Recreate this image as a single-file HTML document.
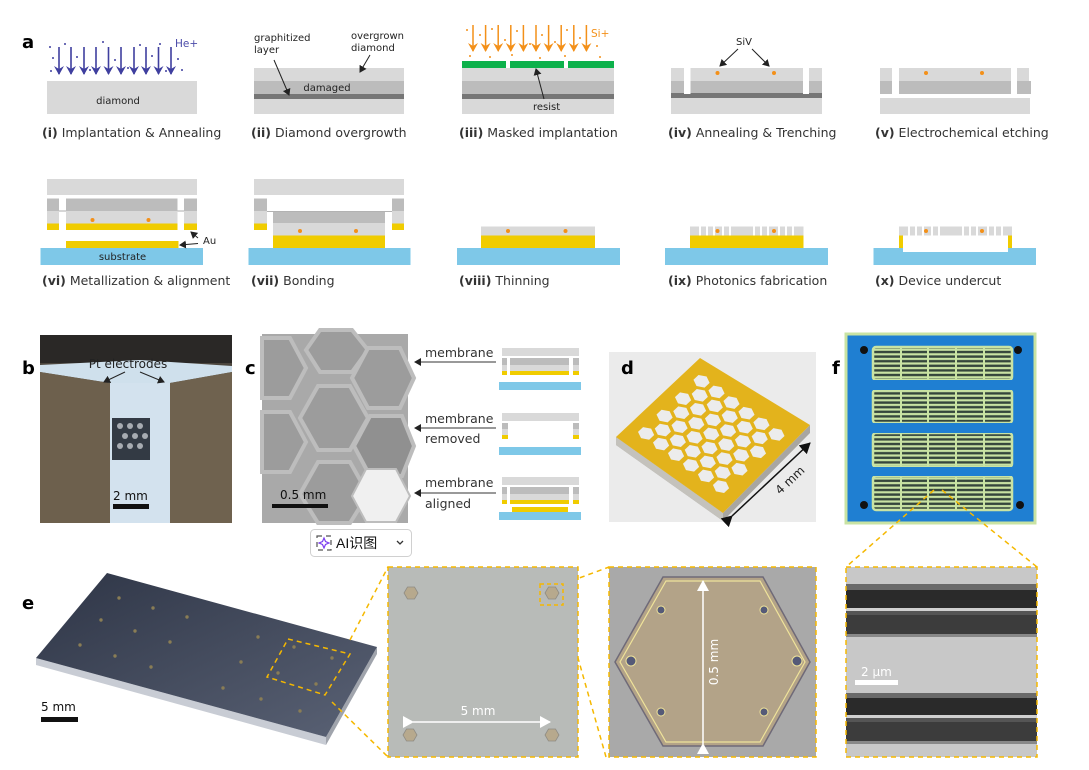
<!DOCTYPE html>
<html><head><meta charset="utf-8"><style>
html,body{margin:0;padding:0;background:#fff;}
svg{display:block;font-family:"Liberation Sans","DejaVu Sans",sans-serif;}
.cap{font-family:"DejaVu Sans","Liberation Sans",sans-serif;font-size:12.5px;fill:#333;}
.cap tspan.b{font-weight:bold;}
.sm{font-family:"DejaVu Sans","Liberation Sans",sans-serif;font-size:10px;fill:#222;}
.lab{font-family:"DejaVu Sans","Liberation Sans",sans-serif;font-size:18px;font-weight:bold;fill:#000;}
.mt{font-family:"DejaVu Sans","Liberation Sans",sans-serif;font-size:12.5px;fill:#333;}
</style></head><body>
<svg width="1089" height="770" viewBox="0 0 1089 770" xmlns="http://www.w3.org/2000/svg">
<defs>
<marker id="ab" markerWidth="8" markerHeight="8" refX="6" refY="4" orient="auto" markerUnits="userSpaceOnUse"><path d="M0,0 L7,4 L0,8 z" fill="#222"/></marker>
<marker id="ap" markerWidth="10" markerHeight="10" refX="8" refY="5" orient="auto" markerUnits="userSpaceOnUse"><path d="M0,0 L9,5 L0,10 L3,5 z" fill="#3f3f9f"/></marker>
<marker id="ao" markerWidth="10" markerHeight="10" refX="8" refY="5" orient="auto" markerUnits="userSpaceOnUse"><path d="M0,0 L9,5 L0,10 L3,5 z" fill="#f39019"/></marker>
<marker id="aw" markerWidth="12" markerHeight="12" refX="10" refY="6" orient="auto" markerUnits="userSpaceOnUse"><path d="M0,0 L11,6 L0,12 z" fill="#fff"/></marker>
<marker id="ak" markerWidth="12" markerHeight="12" refX="10" refY="6" orient="auto" markerUnits="userSpaceOnUse"><path d="M0,0 L11,6 L0,12 z" fill="#111"/></marker>
<polygon id="hx" points="6,0 3,5.2 -3,5.2 -6,0 -3,-5.2 3,-5.2"/>
<pattern id="stripe" width="10" height="4.6" patternUnits="userSpaceOnUse"><rect width="10" height="4.6" fill="#c9e3a3"/><rect y="1.2" width="10" height="2.4" fill="#35463c"/></pattern>
<linearGradient id="plate" x1="0" y1="0" x2="1" y2="1"><stop offset="0" stop-color="#2e3546"/><stop offset="1" stop-color="#5a6275"/></linearGradient>
<linearGradient id="bph" x1="0" y1="0" x2="0" y2="1"><stop offset="0" stop-color="#3d3a36"/><stop offset="0.5" stop-color="#6b5f4c"/><stop offset="1" stop-color="#7b6e58"/></linearGradient>
</defs>

<!-- ===== panel a ===== -->
<text x="22" y="48" class="lab">a</text>

<!-- (i) -->
<g stroke="#3f3f9f" stroke-width="1.6" marker-end="url(#ap)">
<line x1="59" y1="47" x2="59" y2="74"/><line x1="71" y1="47" x2="71" y2="74"/><line x1="84" y1="47" x2="84" y2="74"/><line x1="96" y1="47" x2="96" y2="74"/><line x1="108.5" y1="47" x2="108.5" y2="74"/><line x1="121" y1="47" x2="121" y2="74"/><line x1="134" y1="47" x2="134" y2="74"/><line x1="146" y1="47" x2="146" y2="74"/><line x1="158.5" y1="47" x2="158.5" y2="74"/><line x1="171" y1="47" x2="171" y2="74"/>
</g>
<g fill="#3f3f9f">
<circle cx="50" cy="47" r="1"/><circle cx="65" cy="44" r="1"/><circle cx="103" cy="42" r="1"/><circle cx="140" cy="45" r="1"/><circle cx="160" cy="44" r="1"/><circle cx="53" cy="58" r="1"/><circle cx="77" cy="57" r="1"/><circle cx="115" cy="60" r="1"/><circle cx="152" cy="56" r="1"/><circle cx="178" cy="59" r="1"/><circle cx="51" cy="71" r="1"/><circle cx="90" cy="70" r="1"/><circle cx="128" cy="68" r="1"/><circle cx="166" cy="71" r="1"/><circle cx="182" cy="70" r="1"/>
</g>
<text x="175" y="47" font-size="10.5" fill="#4a4aa8" font-family="DejaVu Sans,sans-serif">He+</text>
<rect x="47" y="81" width="150" height="33" fill="#d9d9d9"/>
<text x="118" y="104" text-anchor="middle" class="sm" font-size="10.5">diamond</text>
<text x="42" y="137" class="cap"><tspan class="b">(i)</tspan> Implantation &amp; Annealing</text>

<!-- (ii) -->
<rect x="254" y="68" width="150" height="13" fill="#d9d9d9"/>
<rect x="254" y="81" width="150" height="13" fill="#bcbcbc"/>
<rect x="254" y="94" width="150" height="5" fill="#767676"/>
<rect x="254" y="99" width="150" height="15" fill="#d9d9d9"/>
<text x="327" y="91" text-anchor="middle" class="sm" font-size="10.5" fill="#444">damaged</text>
<text x="254" y="41" class="sm">graphitized</text>
<text x="254" y="53" class="sm">layer</text>
<text x="351" y="39" class="sm">overgrown</text>
<text x="351" y="51" class="sm">diamond</text>
<line x1="274" y1="60" x2="289" y2="95" stroke="#222" stroke-width="1" marker-end="url(#ab)"/>
<line x1="370" y1="55" x2="360" y2="72" stroke="#222" stroke-width="1" marker-end="url(#ab)"/>
<text x="251" y="137" class="cap"><tspan class="b">(ii)</tspan> Diamond overgrowth</text>

<!-- (iii) -->
<g stroke="#f39019" stroke-width="1.5" marker-end="url(#ao)">
<line x1="473" y1="25" x2="473" y2="51"/><line x1="485.6" y1="25" x2="485.6" y2="51"/><line x1="498.2" y1="25" x2="498.2" y2="51"/><line x1="510.8" y1="25" x2="510.8" y2="51"/><line x1="523.4" y1="25" x2="523.4" y2="51"/><line x1="536" y1="25" x2="536" y2="51"/><line x1="548.6" y1="25" x2="548.6" y2="51"/><line x1="561.2" y1="25" x2="561.2" y2="51"/><line x1="573.8" y1="25" x2="573.8" y2="51"/><line x1="586.4" y1="25" x2="586.4" y2="51"/>
</g>
<g fill="#f39019">
<circle cx="467" cy="30" r="1"/><circle cx="480" cy="35" r="1"/><circle cx="492" cy="29" r="1"/><circle cx="505" cy="40" r="1"/><circle cx="517" cy="31" r="1"/><circle cx="530" cy="44" r="1"/><circle cx="542" cy="35" r="1"/><circle cx="555" cy="42" r="1"/><circle cx="567" cy="30" r="1"/><circle cx="580" cy="38" r="1"/><circle cx="597" cy="46" r="1"/><circle cx="470" cy="56" r="1"/><circle cx="490" cy="57" r="1"/><circle cx="512" cy="55" r="1"/><circle cx="540" cy="58" r="1"/><circle cx="565" cy="56" r="1"/><circle cx="600" cy="57" r="1"/>
</g>
<text x="591" y="37" font-size="10.5" fill="#f39019" font-family="DejaVu Sans,sans-serif">Si+</text>
<rect x="462" y="61" width="44" height="7" fill="#0db14b"/>
<rect x="510" y="61" width="54" height="7" fill="#0db14b"/>
<rect x="568" y="61" width="46" height="7" fill="#0db14b"/>
<rect x="462" y="68" width="152" height="13" fill="#d9d9d9"/>
<rect x="462" y="81" width="152" height="13" fill="#bcbcbc"/>
<rect x="462" y="94" width="152" height="5" fill="#767676"/>
<rect x="462" y="99" width="152" height="15" fill="#d9d9d9"/>
<text x="533" y="110" class="sm" font-size="10.5">resist</text>
<line x1="544" y1="99" x2="536" y2="69" stroke="#222" stroke-width="1" marker-end="url(#ab)"/>
<text x="459" y="137" class="cap"><tspan class="b">(iii)</tspan> Masked implantation</text>

<!-- (iv) -->
<rect x="671" y="68" width="151" height="13" fill="#d9d9d9"/>
<rect x="671" y="81" width="151" height="12" fill="#bcbcbc"/>
<rect x="671" y="93" width="151" height="5" fill="#767676"/>
<rect x="671" y="98" width="151" height="16" fill="#d9d9d9"/>
<rect x="684" y="68" width="6.5" height="26" fill="#fff"/>
<rect x="803" y="68" width="6" height="26" fill="#fff"/>
<circle cx="717.5" cy="73" r="2" fill="#f39019"/><circle cx="774" cy="73" r="2" fill="#f39019"/>
<text x="744" y="45" text-anchor="middle" class="sm" font-size="10.5">SiV</text>
<line x1="738" y1="49" x2="720" y2="66" stroke="#222" stroke-width="1" marker-end="url(#ab)"/>
<line x1="752" y1="49" x2="769" y2="66" stroke="#222" stroke-width="1" marker-end="url(#ab)"/>
<text x="668" y="137" class="cap"><tspan class="b">(iv)</tspan> Annealing &amp; Trenching</text>

<!-- (v) -->
<rect x="880" y="68" width="12" height="13" fill="#d9d9d9"/>
<rect x="899" y="68" width="112" height="13" fill="#d9d9d9"/>
<rect x="1017" y="68" width="12" height="13" fill="#d9d9d9"/>
<rect x="880" y="81" width="12" height="13" fill="#bcbcbc"/>
<rect x="899" y="81" width="112" height="13" fill="#bcbcbc"/>
<rect x="1017" y="81" width="14" height="13" fill="#bcbcbc"/>
<rect x="880" y="98" width="150" height="16" fill="#d9d9d9"/>
<circle cx="926" cy="73" r="2" fill="#f39019"/><circle cx="982" cy="73" r="2" fill="#f39019"/>
<text x="875" y="137" class="cap"><tspan class="b">(v)</tspan> Electrochemical etching</text>

<!-- (vi) -->
<rect x="47" y="179" width="150" height="16" fill="#d9d9d9"/>
<rect x="47" y="198.5" width="12" height="12.5" fill="#bcbcbc"/>
<rect x="47" y="211" width="12" height="12.5" fill="#d9d9d9"/>
<rect x="47" y="223.5" width="12" height="6.5" fill="#f0cc00"/>
<rect x="66" y="198.5" width="111.5" height="12.5" fill="#bcbcbc"/>
<rect x="66" y="211" width="111.5" height="12.5" fill="#d9d9d9"/>
<rect x="66" y="223.5" width="111.5" height="6.5" fill="#f0cc00"/>
<rect x="184" y="198.5" width="13" height="12.5" fill="#bcbcbc"/>
<rect x="184" y="211" width="13" height="12.5" fill="#d9d9d9"/>
<rect x="184" y="223.5" width="13" height="6.5" fill="#f0cc00"/>
<line x1="59" y1="211" x2="66" y2="211" stroke="#999" stroke-width="0.8"/>
<line x1="177.5" y1="211" x2="184" y2="211" stroke="#999" stroke-width="0.8"/>
<circle cx="92.5" cy="220" r="2" fill="#f39019"/><circle cx="148.5" cy="220" r="2" fill="#f39019"/>
<rect x="66" y="241" width="112.5" height="7" fill="#f0cc00"/>
<rect x="40.5" y="248" width="162.5" height="17" fill="#7ec8e8"/>
<text x="122.5" y="260" text-anchor="middle" class="sm" font-size="10.5">substrate</text>
<text x="203" y="244" class="sm" font-size="10.5">Au</text>
<line x1="198" y1="238" x2="191" y2="232" stroke="#222" stroke-width="1" marker-end="url(#ab)"/>
<line x1="198" y1="243.5" x2="180" y2="245" stroke="#222" stroke-width="1" marker-end="url(#ab)"/>
<text x="42" y="285" class="cap"><tspan class="b">(vi)</tspan> Metallization &amp; alignment</text>

<!-- (vii) -->
<rect x="254" y="179" width="150" height="16" fill="#d9d9d9"/>
<rect x="254" y="198.5" width="13" height="12.5" fill="#bcbcbc"/>
<rect x="254" y="211" width="13" height="12.5" fill="#d9d9d9"/>
<rect x="254" y="223.5" width="13" height="6.5" fill="#f0cc00"/>
<rect x="392" y="198.5" width="12" height="12.5" fill="#bcbcbc"/>
<rect x="392" y="211" width="12" height="12.5" fill="#d9d9d9"/>
<rect x="392" y="223.5" width="12" height="6.5" fill="#f0cc00"/>
<line x1="267" y1="211.5" x2="392" y2="211.5" stroke="#999" stroke-width="0.8"/>
<rect x="273" y="212" width="112" height="11" fill="#bcbcbc"/>
<rect x="273" y="223" width="112" height="12.5" fill="#d9d9d9"/>
<rect x="273" y="235.5" width="112" height="12.5" fill="#f0cc00"/>
<circle cx="300" cy="231" r="2" fill="#f39019"/><circle cx="356" cy="231" r="2" fill="#f39019"/>
<rect x="248.5" y="248" width="162" height="17" fill="#7ec8e8"/>
<text x="251" y="285" class="cap"><tspan class="b">(vii)</tspan> Bonding</text>

<!-- (viii) -->
<rect x="481" y="226.5" width="114" height="9" fill="#d9d9d9"/>
<rect x="481" y="235.5" width="114" height="12.5" fill="#f0cc00"/>
<circle cx="508" cy="231" r="2" fill="#f39019"/><circle cx="565.5" cy="231" r="2" fill="#f39019"/>
<rect x="457" y="248" width="163" height="17" fill="#7ec8e8"/>
<text x="459" y="285" class="cap"><tspan class="b">(viii)</tspan> Thinning</text>

<!-- (ix) -->
<rect x="690" y="226.5" width="113.5" height="9" fill="#d9d9d9"/>
<g fill="#fff"><rect x="699" y="226.5" width="2" height="9"/><rect x="706" y="226.5" width="2" height="9"/><rect x="713" y="226.5" width="2" height="9"/><rect x="722" y="226.5" width="2" height="9"/><rect x="729" y="226.5" width="2" height="9"/><rect x="753" y="226.5" width="2" height="9"/><rect x="760" y="226.5" width="2" height="9"/><rect x="767" y="226.5" width="2" height="9"/><rect x="778" y="226.5" width="2" height="9"/><rect x="785" y="226.5" width="2" height="9"/><rect x="792" y="226.5" width="2" height="9"/></g>
<circle cx="717.5" cy="231" r="2" fill="#f39019"/><circle cx="774" cy="231" r="2" fill="#f39019"/>
<rect x="690" y="235.5" width="113.5" height="12.5" fill="#f0cc00"/>
<rect x="665" y="248" width="163" height="17" fill="#7ec8e8"/>
<text x="668" y="285" class="cap"><tspan class="b">(ix)</tspan> Photonics fabrication</text>

<!-- (x) -->
<rect x="899" y="226.5" width="113" height="9" fill="#d9d9d9"/>
<g fill="#fff"><rect x="908" y="226.5" width="2" height="9"/><rect x="915" y="226.5" width="2" height="9"/><rect x="922" y="226.5" width="2" height="9"/><rect x="931" y="226.5" width="2" height="9"/><rect x="938" y="226.5" width="2" height="9"/><rect x="962" y="226.5" width="2" height="9"/><rect x="969" y="226.5" width="2" height="9"/><rect x="976" y="226.5" width="2" height="9"/><rect x="987" y="226.5" width="2" height="9"/><rect x="994" y="226.5" width="2" height="9"/><rect x="1001" y="226.5" width="2" height="9"/></g>
<circle cx="926" cy="231" r="2" fill="#f39019"/><circle cx="982" cy="231" r="2" fill="#f39019"/>
<rect x="873.5" y="248" width="162.5" height="17" fill="#7ec8e8"/>
<rect x="899" y="235.5" width="113" height="12.5" fill="#f0cc00"/>
<rect x="903" y="235.5" width="105" height="16.5" fill="#fff"/>
<text x="875" y="285" class="cap"><tspan class="b">(x)</tspan> Device undercut</text>

<!-- ===== panel b ===== -->
<text x="22" y="374" class="lab">b</text>
<rect x="40" y="335" width="192" height="188" fill="url(#bph)"/>
<rect x="40" y="335" width="192" height="28" fill="#2a2826"/>
<polygon points="40,365 140,360 232,366 232,372 170,383 110,383 40,372" fill="#cfe0ec"/>
<polygon points="110,383 170,383 170,523 110,523" fill="#d3e2ee"/>
<polygon points="40,372 110,383 110,523 40,523" fill="#6d604d"/>
<polygon points="170,383 232,372 232,523 170,523" fill="#6f624f"/>
<rect x="112" y="418" width="38" height="42" fill="#333a44"/>
<g fill="#d8dbe0" opacity="0.7"><circle cx="120" cy="426" r="3"/><circle cx="130" cy="426" r="3"/><circle cx="140" cy="426" r="3"/><circle cx="125" cy="436" r="3"/><circle cx="135" cy="436" r="3"/><circle cx="145" cy="436" r="3"/><circle cx="120" cy="446" r="3"/><circle cx="130" cy="446" r="3"/><circle cx="140" cy="446" r="3"/></g>
<text x="128" y="368" text-anchor="middle" font-size="12" fill="#222" font-family="DejaVu Sans,sans-serif">Pt electrodes</text>
<line x1="125" y1="372" x2="104" y2="382" stroke="#222" stroke-width="1" marker-end="url(#ab)"/>
<line x1="140" y1="372" x2="164" y2="382" stroke="#222" stroke-width="1" marker-end="url(#ab)"/>
<text x="113" y="500" font-size="12" fill="#111" font-family="DejaVu Sans,sans-serif">2 mm</text>
<rect x="113" y="504" width="36" height="5" fill="#111"/>

<!-- ===== panel c ===== -->
<text x="245" y="374" class="lab">c</text>
<rect x="262" y="334" width="146" height="189" fill="#a9a9a9"/>
<g stroke="#bdbdbd" stroke-width="4" fill="#9c9c9c">
<polygon points="262,338 290,338 306,368 290,398 262,398"/>
<polygon points="262,412 290,412 306,442 290,472 262,472"/>
<polygon points="320,330 352,330 368,350 352,372 320,372 306,350" />
<polygon points="318,386 350,386 368,418 350,450 318,450 300,418"/>
<polygon points="318,462 350,462 368,494 350,523 318,523 300,494"/>
<polygon points="368,348 400,348 414,378 400,408 368,408 352,378"/>
<polygon points="370,416 402,416 414,446 402,476 370,476 354,446" fill="#909090"/>
</g>
<polygon points="366,469 396,469 410,496 396,522 366,522 352,496" fill="#f0f0f0" stroke="#bdbdbd" stroke-width="2"/>
<text x="280" y="499" font-size="12" fill="#111" font-family="DejaVu Sans,sans-serif">0.5 mm</text>
<rect x="272" y="504" width="56" height="4" fill="#111"/>
<text x="425" y="357" class="mt">membrane</text>
<text x="425" y="423" class="mt">membrane</text>
<text x="425" y="443" class="mt">removed</text>
<text x="425" y="487" class="mt">membrane</text>
<text x="425" y="508" class="mt">aligned</text>
<line x1="496" y1="362" x2="415" y2="362" stroke="#333" stroke-width="1" marker-end="url(#ab)"/>
<line x1="496" y1="428" x2="415" y2="428" stroke="#333" stroke-width="1" marker-end="url(#ab)"/>
<line x1="496" y1="493" x2="415" y2="493" stroke="#333" stroke-width="1" marker-end="url(#ab)"/>
<!-- mini 1 -->
<rect x="502" y="348" width="77" height="8" fill="#d9d9d9"/>
<rect x="502" y="358" width="5" height="7" fill="#bcbcbc"/><rect x="510" y="358" width="59" height="7" fill="#bcbcbc"/><rect x="573" y="358" width="6" height="7" fill="#bcbcbc"/>
<rect x="502" y="365" width="5" height="6" fill="#d9d9d9"/><rect x="510" y="365" width="59" height="6" fill="#d9d9d9"/><rect x="573" y="365" width="6" height="6" fill="#d9d9d9"/>
<rect x="502" y="371" width="5" height="4" fill="#f0cc00"/><rect x="510" y="371" width="59" height="4" fill="#f0cc00"/><rect x="573" y="371" width="6" height="4" fill="#f0cc00"/>
<rect x="499" y="382" width="82" height="8" fill="#7ec8e8"/>
<!-- mini 2 -->
<rect x="502" y="413" width="77" height="8" fill="#d9d9d9"/>
<rect x="502" y="423" width="6" height="6" fill="#bcbcbc"/><rect x="502" y="429" width="6" height="6" fill="#d9d9d9"/><rect x="502" y="435" width="6" height="4" fill="#f0cc00"/>
<rect x="573" y="423" width="6" height="6" fill="#bcbcbc"/><rect x="573" y="429" width="6" height="6" fill="#d9d9d9"/><rect x="573" y="435" width="6" height="4" fill="#f0cc00"/>
<rect x="499" y="447" width="82" height="8" fill="#7ec8e8"/>
<!-- mini 3 -->
<rect x="502" y="477" width="77" height="8" fill="#d9d9d9"/>
<rect x="502" y="487" width="5" height="7" fill="#bcbcbc"/><rect x="510" y="487" width="59" height="7" fill="#bcbcbc"/><rect x="573" y="487" width="6" height="7" fill="#bcbcbc"/>
<rect x="502" y="494" width="5" height="6" fill="#d9d9d9"/><rect x="510" y="494" width="59" height="6" fill="#d9d9d9"/><rect x="573" y="494" width="6" height="6" fill="#d9d9d9"/>
<rect x="502" y="500" width="5" height="4" fill="#f0cc00"/><rect x="510" y="500" width="59" height="4" fill="#f0cc00"/><rect x="573" y="500" width="6" height="4" fill="#f0cc00"/>
<rect x="512" y="507" width="56" height="5" fill="#f0cc00"/>
<rect x="499" y="512" width="82" height="8" fill="#7ec8e8"/>

<!-- AI button -->
<rect x="310.5" y="529.5" width="101" height="27" rx="4" fill="#fff" stroke="#d0d0d0"/>
<rect x="317" y="536" width="14" height="14" fill="none" stroke="#555" stroke-width="1.2" stroke-dasharray="5 4"/>
<path d="M324,538 L325.5,541.5 L329,543 L325.5,544.5 L324,548 L322.5,544.5 L319,543 L322.5,541.5 Z" fill="none" stroke="#7a3cf0" stroke-width="1.2"/>
<text x="336" y="548" font-size="14" fill="#111" font-family="Liberation Sans,Noto Sans CJK SC,sans-serif">AI识图</text>
<path d="M397,541 L400,544 L403,541" fill="none" stroke="#333" stroke-width="1.3"/>

<!-- ===== panel d ===== -->
<rect x="609" y="352" width="207" height="170" fill="#ebebeb"/>
<polygon points="616,437 723,513 810,425 810,433 723,521 616,445" fill="#a8a6a2"/>
<polygon points="616,437 723,513 723,521 616,445" fill="#c4c2bc"/>
<polygon points="616,437 700,358 810,425 723,513" fill="#e3b31c"/>
<g transform="matrix(0.84,-0.79,1.07,0.76,616,437)" fill="#ececec">
<use href="#hx" x="18" y="14"/><use href="#hx" x="18" y="28"/><use href="#hx" x="18" y="42"/><use href="#hx" x="18" y="56"/><use href="#hx" x="18" y="70"/><use href="#hx" x="18" y="84"/>
<use href="#hx" x="29" y="21"/><use href="#hx" x="29" y="35"/><use href="#hx" x="29" y="49"/><use href="#hx" x="29" y="63"/><use href="#hx" x="29" y="77"/>
<use href="#hx" x="40" y="14"/><use href="#hx" x="40" y="28"/><use href="#hx" x="40" y="42"/><use href="#hx" x="40" y="56"/><use href="#hx" x="40" y="70"/><use href="#hx" x="40" y="84"/>
<use href="#hx" x="51" y="21"/><use href="#hx" x="51" y="35"/><use href="#hx" x="51" y="49"/><use href="#hx" x="51" y="63"/><use href="#hx" x="51" y="77"/>
<use href="#hx" x="62" y="14"/><use href="#hx" x="62" y="28"/><use href="#hx" x="62" y="42"/><use href="#hx" x="62" y="56"/><use href="#hx" x="62" y="70"/><use href="#hx" x="62" y="84"/>
<use href="#hx" x="73" y="21"/><use href="#hx" x="73" y="35"/><use href="#hx" x="73" y="49"/><use href="#hx" x="73" y="63"/><use href="#hx" x="73" y="77"/>
<use href="#hx" x="84" y="14"/><use href="#hx" x="84" y="28"/><use href="#hx" x="84" y="42"/><use href="#hx" x="84" y="56"/><use href="#hx" x="84" y="70"/><use href="#hx" x="84" y="84"/>
</g>
<text x="621" y="374" class="lab">d</text>
<line x1="732" y1="516" x2="810" y2="443" stroke="#111" stroke-width="1.5" marker-end="url(#ak)" marker-start="url(#ak)"/>
<text x="780" y="495" font-size="12" fill="#222" font-family="DejaVu Sans,sans-serif" transform="rotate(-43 780 495)">4 mm</text>

<!-- ===== panel f ===== -->
<text x="832" y="374" class="lab">f</text>
<rect x="846" y="334" width="189" height="189" fill="#1f7fd2"/>
<rect x="846" y="334" width="189" height="189" fill="none" stroke="#c9e3a3" stroke-width="3"/>
<g stroke="#c9e3a3" stroke-width="2.5">
<rect x="873" y="347" width="139" height="33" rx="3" fill="url(#stripe)"/>
<rect x="873" y="390" width="139" height="33" rx="3" fill="url(#stripe)"/>
<rect x="873" y="433" width="139" height="34" rx="3" fill="url(#stripe)"/>
<rect x="873" y="476" width="139" height="34" rx="3" fill="url(#stripe)"/>
</g>
<g fill="#c9e3a3"><rect x="900" y="347" width="2" height="163"/><rect x="927" y="347" width="2" height="163"/><rect x="955" y="347" width="2" height="163"/><rect x="983" y="347" width="2" height="163"/></g>
<rect x="873" y="380" width="139" height="10" fill="#1f7fd2"/><rect x="873" y="423" width="139" height="10" fill="#1f7fd2"/><rect x="873" y="467" width="139" height="9" fill="#1f7fd2"/>
<circle cx="864" cy="350" r="4" fill="#111"/><circle cx="1018" cy="350" r="4" fill="#111"/><circle cx="864" cy="505" r="4" fill="#111"/><circle cx="1020" cy="505" r="4" fill="#111"/>

<!-- connectors f -->
<g stroke="#f5b800" stroke-width="1.5" stroke-dasharray="5 4" fill="none">
<line x1="934" y1="490" x2="846" y2="567"/>
<line x1="942" y1="490" x2="1037" y2="567"/>
</g>

<!-- SEM panel -->
<rect x="846" y="567" width="191" height="190" fill="#c8c8c8"/>
<rect x="846" y="584" width="191" height="6" fill="#6a6a6a"/>
<rect x="846" y="590" width="191" height="18" fill="#2a2a2a"/>
<rect x="846" y="608" width="191" height="3" fill="#d0d0d0"/>
<rect x="846" y="611" width="191" height="4" fill="#555"/>
<rect x="846" y="615" width="191" height="19" fill="#3c3c3c"/>
<rect x="846" y="634" width="191" height="3" fill="#888"/>
<rect x="846" y="693" width="191" height="5" fill="#6a6a6a"/>
<rect x="846" y="698" width="191" height="17" fill="#2a2a2a"/>
<rect x="846" y="715" width="191" height="3" fill="#d0d0d0"/>
<rect x="846" y="718" width="191" height="4" fill="#555"/>
<rect x="846" y="722" width="191" height="19" fill="#3c3c3c"/>
<rect x="846" y="741" width="191" height="3" fill="#888"/>
<text x="861" y="676" font-size="12" fill="#fff" font-family="DejaVu Sans,sans-serif">2 μm</text>
<rect x="855" y="680" width="43" height="5" fill="#fff"/>
<rect x="846" y="567" width="191" height="190" fill="none" stroke="#f5b800" stroke-width="1.5" stroke-dasharray="5 4"/>

<!-- ===== panel e ===== -->
<text x="22" y="609" class="lab">e</text>
<polygon points="36,658 326,737 326,745 36,665" fill="#c8ccd4"/>
<polygon points="326,737 377,647 377,654 326,745" fill="#a0a4ac"/>
<polygon points="107,573 377,647 326,737 36,658" fill="url(#plate)"/>
<g fill="#8a7d55"><circle cx="119" cy="598" r="1.7"/><circle cx="153" cy="608" r="1.7"/><circle cx="101" cy="620" r="1.7"/><circle cx="135" cy="631" r="1.7"/><circle cx="187" cy="617" r="1.7"/><circle cx="80" cy="645" r="1.7"/><circle cx="115" cy="656" r="1.7"/><circle cx="170" cy="642" r="1.7"/><circle cx="151" cy="667" r="1.7"/><circle cx="258" cy="637" r="1.7"/><circle cx="241" cy="662" r="1.7"/><circle cx="223" cy="688" r="1.7"/><circle cx="261" cy="699" r="1.7"/><circle cx="300" cy="711" r="1.7"/><circle cx="294" cy="647" r="1.7"/><circle cx="332" cy="658" r="1.7"/><circle cx="278" cy="673" r="1.7"/><circle cx="316" cy="684" r="1.7"/></g>
<polygon points="288,639 350,654 325,695 267,677" fill="none" stroke="#f5b800" stroke-width="1.5" stroke-dasharray="5 4"/>
<text x="41" y="711" font-size="12" fill="#111" font-family="DejaVu Sans,sans-serif">5 mm</text>
<rect x="41" y="717" width="37" height="5" fill="#111"/>
<g stroke="#f5b800" stroke-width="1.5" stroke-dasharray="5 4" fill="none">
<line x1="350" y1="640" x2="388" y2="567"/>
<line x1="332" y1="702" x2="388" y2="757"/>
<line x1="563" y1="584" x2="609" y2="567"/>
<line x1="563" y1="605" x2="606" y2="757"/>
</g>
<!-- middle panel -->
<rect x="388" y="567" width="190" height="190" fill="#b8bbb8"/>
<g fill="#b7a98d" stroke="#8f8c84" stroke-width="0.8">
<polygon points="404,593 407.5,587 414.5,587 418,593 414.5,599 407.5,599"/>
<polygon points="545,593 548.5,587 555.5,587 559,593 555.5,599 548.5,599"/>
<polygon points="403,735 406.5,729 413.5,729 417,735 413.5,741 406.5,741"/>
<polygon points="545,735 548.5,729 555.5,729 559,735 555.5,741 548.5,741"/>
</g>
<line x1="413" y1="722" x2="550" y2="722" stroke="#fff" stroke-width="1.5" marker-end="url(#aw)" marker-start="url(#aw)"/>
<text x="478" y="715" text-anchor="middle" font-size="12" fill="#fff" font-family="DejaVu Sans,sans-serif">5 mm</text>
<rect x="540" y="584" width="23" height="21" fill="none" stroke="#f5b800" stroke-width="1.5" stroke-dasharray="4 3"/>
<rect x="388" y="567" width="190" height="190" fill="none" stroke="#f5b800" stroke-width="1.5" stroke-dasharray="5 4"/>

<!-- hex panel -->
<rect x="609" y="567" width="207" height="190" fill="#a9a9a9"/>
<polygon points="663,577 763,577 810,662 763,746 663,746 615,662" fill="#b3a388" stroke="#6f6a78" stroke-width="1.5"/>
<polygon points="666,581 760,581 805,662 760,742 666,742 620,662" fill="none" stroke="#efe39a" stroke-width="1.2"/>
<g fill="#555a78" stroke="#efe39a" stroke-width="1"><circle cx="661" cy="610" r="4"/><circle cx="764" cy="610" r="4"/><circle cx="631" cy="661" r="5"/><circle cx="797" cy="661" r="5"/><circle cx="661" cy="712" r="4"/><circle cx="764" cy="712" r="4"/></g>
<line x1="703" y1="744" x2="703" y2="581" stroke="#fff" stroke-width="1.5" marker-end="url(#aw)" marker-start="url(#aw)"/>
<text x="718" y="662" text-anchor="middle" font-size="12" fill="#fff" font-family="DejaVu Sans,sans-serif" transform="rotate(-90 718 662)">0.5 mm</text>
<rect x="609" y="567" width="207" height="190" fill="none" stroke="#f5b800" stroke-width="1.5" stroke-dasharray="5 4"/>
</svg>
</body></html>
